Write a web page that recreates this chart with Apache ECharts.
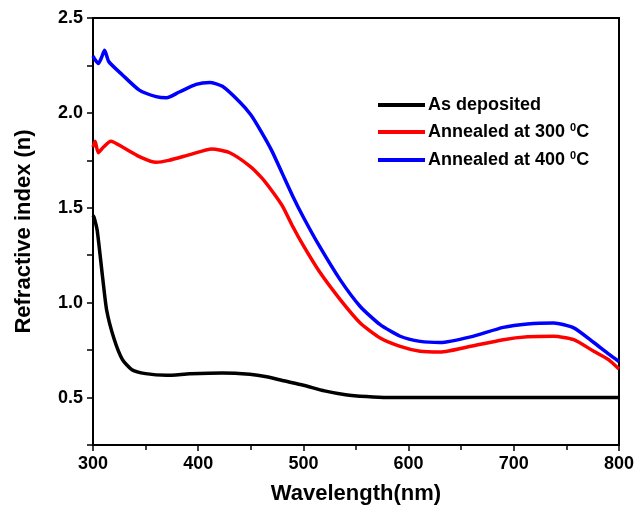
<!DOCTYPE html>
<html>
<head>
<meta charset="utf-8">
<script src="https://cdn.jsdelivr.net/npm/echarts@6/dist/echarts.min.js"></script>
<style>
  html, body { margin: 0; padding: 0; background: #fff; }
  #chart { width: 644px; height: 511px; }
</style>
</head>
<body>
<div id="chart"></div>
<script>
// values
const wlDeposited = [300, 301, 304, 309, 313, 320, 328, 337, 350, 370, 392, 423, 449, 465, 480, 500, 520, 540, 560, 580, 600, 650, 700, 750, 800];
const nDeposited = [1.46, 1.45, 1.38, 1.14, 0.96, 0.81, 0.70, 0.647, 0.626, 0.617, 0.625, 0.63, 0.623, 0.61, 0.59, 0.565, 0.535, 0.515, 0.505, 0.50, 0.50, 0.50, 0.50, 0.50, 0.50];

const wl300 = [300, 302, 305, 310, 317, 328, 344, 360, 372, 392, 413, 430, 449, 460, 470, 480, 490, 500, 515, 535, 554, 573, 592, 611, 630, 659, 690, 713, 738, 757, 776, 790, 800];
const n300 = [1.82, 1.85, 1.79, 1.82, 1.85, 1.82, 1.77, 1.74, 1.75, 1.78, 1.81, 1.79, 1.72, 1.66, 1.59, 1.51, 1.40, 1.30, 1.165, 1.016, 0.893, 0.814, 0.77, 0.744, 0.74, 0.77, 0.805, 0.82, 0.823, 0.805, 0.744, 0.70, 0.65];

const wl400 = [300, 302, 305, 308, 311, 315, 328, 344, 360, 370, 382, 398, 411, 423, 439, 450, 460, 470, 480, 490, 500, 515, 535, 554, 573, 592, 611, 630, 659, 690, 713, 738, 757, 776, 790, 800];
const n400 = [2.30, 2.28, 2.26, 2.29, 2.33, 2.27, 2.20, 2.12, 2.086, 2.08, 2.11, 2.15, 2.16, 2.14, 2.06, 1.99, 1.90, 1.80, 1.68, 1.56, 1.45, 1.30, 1.12, 0.98, 0.884, 0.823, 0.796, 0.79, 0.82, 0.87, 0.888, 0.893, 0.867, 0.79, 0.73, 0.69];

const names = ['As deposited', 'Annealed at 300 0C', 'Annealed at 400 0C'];

function pairs(xs, ys) {
  return xs.map((x, i) => [x, ys[i]]);
}

const font = "'Liberation Sans', Arial, sans-serif";
const chart = echarts.init(document.getElementById('chart'));

const line = (name, xs, ys, color) => ({
  name: name,
  type: 'line',
  data: pairs(xs, ys),
  symbol: 'none',
  smooth: 0.2,
  lineStyle: { color: color, width: 3.5 },
  itemStyle: { color: color }
});

chart.setOption({
  animation: false,
  grid: {
    left: 93, right: 25, top: 18, bottom: 66,
    show: true, borderColor: '#000', borderWidth: 2
  },
  legend: {
    orient: 'vertical',
    left: 373,
    top: 91,
    icon: 'rect',
    itemWidth: 47,
    itemHeight: 4,
    itemGap: 8,
    data: names,
    formatter: function (name) {
      const m = name.match(/^(.*) 0C$/);
      if (m) return '{t|' + m[1] + ' }{sup|0}{t|C}';
      return '{t|' + name + '}';
    },
    textStyle: {
      padding: [0, 0, 0, -2],
      rich: {
        t: { fontFamily: font, fontWeight: 'bold', fontSize: 18, color: '#000', lineHeight: 20 },
        sup: { fontFamily: font, fontWeight: 'bold', fontSize: 11, color: '#000', verticalAlign: 'top', lineHeight: 20, padding: [0, 0, 9, 0] }
      }
    }
  },
  xAxis: {
    type: 'value',
    min: 300, max: 800, interval: 100,
    name: 'Wavelength(nm)',
    nameLocation: 'middle',
    nameGap: 38,
    nameTextStyle: { fontFamily: font, fontWeight: 'bold', fontSize: 22, color: '#000' },
    axisLine: { show: true, onZero: false, lineStyle: { color: '#000', width: 2 } },
    axisTick: { show: true, inside: false, length: 6, lineStyle: { color: '#000', width: 1.5 } },
    minorTick: { show: true, splitNumber: 2, length: 5, lineStyle: { color: '#000', width: 1.5 } },
    splitLine: { show: false },
    axisLabel: { fontFamily: font, fontWeight: 'bold', fontSize: 18, color: '#000', margin: 10 }
  },
  yAxis: {
    type: 'value',
    min: 0.25, max: 2.5, interval: 0.25,
    name: 'Refractive index (n)',
    nameLocation: 'middle',
    nameGap: 58,
    nameTextStyle: { fontFamily: font, fontWeight: 'bold', fontSize: 22, color: '#000' },
    axisLine: { show: true, onZero: false, lineStyle: { color: '#000', width: 2 } },
    axisTick: { show: true, inside: false, length: 6, lineStyle: { color: '#000', width: 1.5 } },
    splitLine: { show: false },
    axisLabel: {
      fontFamily: font, fontWeight: 'bold', fontSize: 18, color: '#000', margin: 10,
      formatter: function (v) {
        return Math.abs(v * 2 - Math.round(v * 2)) < 1e-6 ? v.toFixed(1) : '';
      }
    }
  },
  series: [
    line(names[0], wlDeposited, nDeposited, '#000000'),
    line(names[1], wl300, n300, '#ff0000'),
    line(names[2], wl400, n400, '#0000ff')
  ]
});
</script>
</body>
</html>
